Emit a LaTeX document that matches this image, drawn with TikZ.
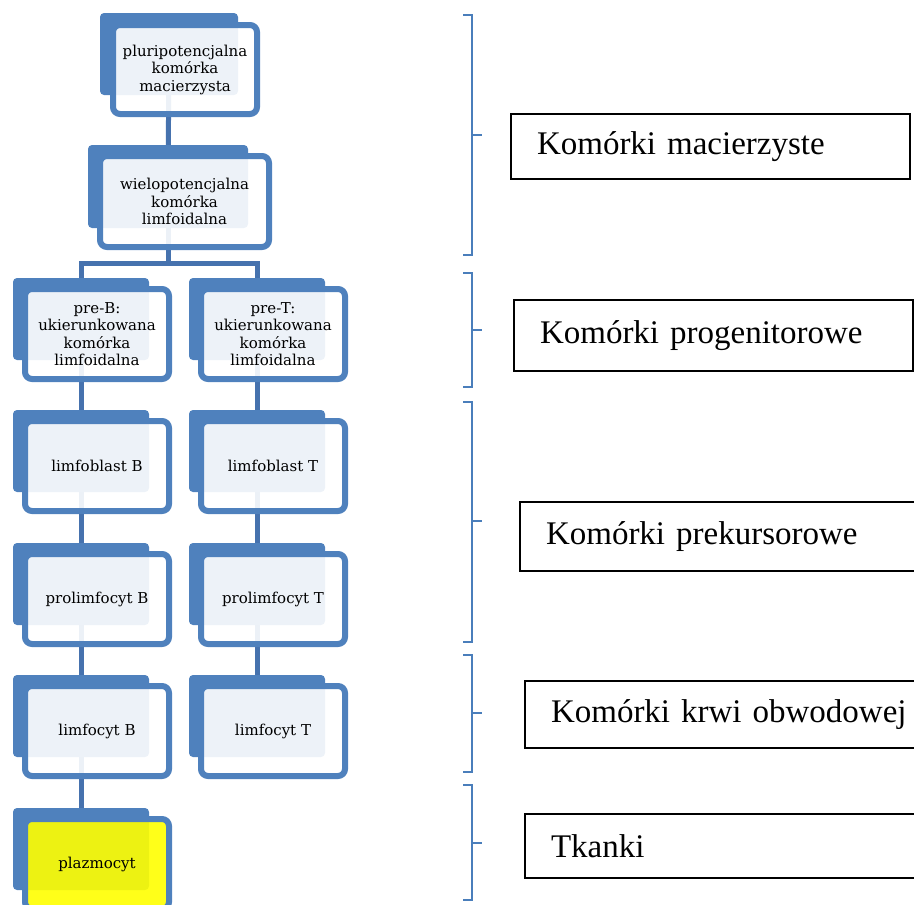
\documentclass[tikz,border=0pt]{standalone}
\usepackage{fontspec}
\setmainfont{Liberation Serif}
\newfontfamily\nodefont{DejaVu Serif}
\usetikzlibrary{backgrounds}
\definecolor{accblue}{HTML}{4F81BD}
\definecolor{connblue}{HTML}{4672AE}
\definecolor{brblue}{HTML}{4A7EBB}
\definecolor{plaz}{HTML}{FFFF00}
\begin{document}
\begin{tikzpicture}[x=1pt,y=-1pt,
  backbox/.style={fill=accblue, rounded corners=4pt, minimum width=136pt, minimum height=82pt, inner sep=0pt},
  frontbox/.style={draw=accblue, line width=6pt, fill=white, fill opacity=0.9, text opacity=1, rounded corners=7pt, minimum width=144pt, minimum height=90pt, inner sep=0pt, align=center, font=\nodefont\fontsize{15}{17.5}\selectfont},
  conn/.style={draw=connblue, line width=5pt},
  bracket/.style={draw=brblue, line width=2pt},
  labelbox/.style={draw=black, line width=2pt, inner ysep=0pt, inner xsep=26pt, align=left, anchor=west, font=\fontsize{33}{39}\selectfont}
]
\clip (0,0) rectangle (914,905);
% back boxes
\node[backbox, minimum width=138pt] (b1) at (169,54) {};
\node[backbox, minimum width=160pt, minimum height=83pt] (b2) at (168,186.5) {};
\node[backbox] (bB1) at (81,319) {};
\node[backbox] (bT1) at (257,319) {};
\node[backbox] (bB2) at (81,451) {};
\node[backbox] (bT2) at (257,451) {};
\node[backbox] (bB3) at (81,584) {};
\node[backbox] (bT3) at (257,584) {};
\node[backbox] (bB4) at (81,716) {};
\node[backbox] (bT4) at (257,716) {};
\node[backbox] (bP) at (81,849) {};
% front boxes
\node[frontbox, minimum height=89pt] (f1) at (185,69.5) {pluripotencjalna\\komórka\\macierzysta};
\node[frontbox, minimum width=169pt, minimum height=91pt] (f2) at (184.5,201.5) {wielopotencjalna\\komórka\\limfoidalna};
\node[frontbox] (fB1) at (97,334) {pre-B:\\ukierunkowana\\komórka\\limfoidalna};
\node[frontbox] (fT1) at (273,334) {pre-T:\\ukierunkowana\\komórka\\limfoidalna};
\node[frontbox] (fB2) at (97,466) {limfoblast B};
\node[frontbox] (fT2) at (273,466) {limfoblast T};
\node[frontbox] (fB3) at (97,599) {prolimfocyt B};
\node[frontbox] (fT3) at (273,599) {prolimfocyt T};
\node[frontbox] (fB4) at (97,731) {limfocyt B};
\node[frontbox] (fT4) at (273,731) {limfocyt T};
\node[frontbox, fill=plaz] (fP) at (97,864) {plazmocyt};
% connectors
\coordinate (bar) at (168,263);
\begin{scope}[on background layer]
\draw[conn] (b1.center) -- (b2.center);
\draw[conn] (b2.center) -- (bar);
\draw[conn] (bB1.center) |- (bar) -| (bT1.center);
\draw[conn] (bB1.center) -- (bB2.center);
\draw[conn] (bB2.center) -- (bB3.center);
\draw[conn] (bB3.center) -- (bB4.center);
\draw[conn] (bB4.center) -- (bP.center);
\draw[conn] (bT1.center) -- (bT2.center);
\draw[conn] (bT2.center) -- (bT3.center);
\draw[conn] (bT3.center) -- (bT4.center);
\end{scope}
% brackets
\foreach \t/\m/\b in {15/135/255, 273/330/387, 402/521/642, 655/713/772, 785/843/900}{
  \draw[bracket] (463,\t) -- (472,\t) -- (472,\b) -- (463,\b) (472,\m) -- (482,\m);
}
% labels
\node[labelbox, minimum width=399pt, minimum height=65pt, text width=347pt] (l1) at (510,146.5) {Komórki macierzyste};
\node[labelbox, minimum width=399pt, minimum height=71pt, text width=347pt] (l2) at (513,335.5) {Komórki progenitorowe};
\node[labelbox, minimum width=410pt, minimum height=69pt, text width=358pt] (l3) at (519,536.5) {Komórki prekursorowe};
\node[labelbox, minimum width=410pt, minimum height=67pt, text width=358pt] (l4) at (524,714.5) {Komórki krwi obwodowej};
\node[labelbox, minimum width=410pt, minimum height=64pt, text width=358pt] (l5) at (524,846) {Tkanki};
\end{tikzpicture}
\end{document}
